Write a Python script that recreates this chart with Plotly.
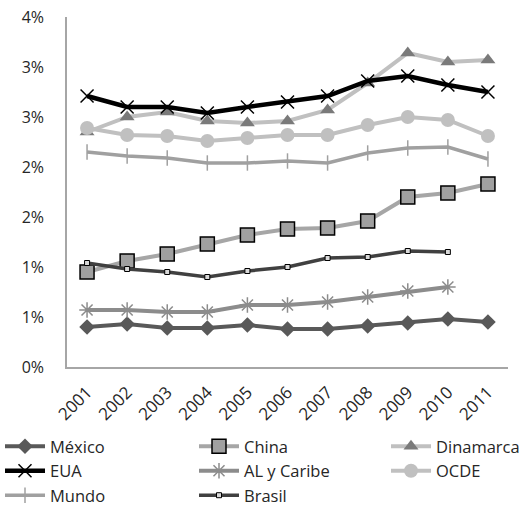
import plotly.graph_objects as go

years = ["2001", "2002", "2003", "2004", "2005", "2006", "2007", "2008", "2009", "2010", "2011"]

# Values in percent
mexico = [0.40, 0.43, 0.39, 0.39, 0.42, 0.38, 0.38, 0.41, 0.44, 0.48, 0.45]
china = [0.95, 1.06, 1.13, 1.23, 1.32, 1.38, 1.39, 1.46, 1.70, 1.74, 1.83]
dinamarca = [2.35, 2.50, 2.55, 2.46, 2.44, 2.46, 2.57, 2.84, 3.14, 3.05, 3.07]
eua = [2.71, 2.60, 2.60, 2.54, 2.60, 2.65, 2.71, 2.86, 2.91, 2.82, 2.75]
al_caribe = [0.57, 0.57, 0.55, 0.55, 0.62, 0.62, 0.65, 0.70, 0.76, 0.80, None]
ocde = [2.39, 2.32, 2.31, 2.26, 2.29, 2.32, 2.32, 2.42, 2.50, 2.47, 2.31]
mundo = [2.15, 2.11, 2.09, 2.04, 2.04, 2.06, 2.04, 2.14, 2.19, 2.20, 2.08]
brasil = [1.04, 0.98, 0.95, 0.90, 0.96, 1.00, 1.09, 1.10, 1.16, 1.15, None]

y_tickvals = [0, 0.5, 1.0, 1.5, 2.0, 2.5, 3.0, 3.5]
y_ticktext = ["0%", "1%", "1%", "2%", "2%", "3%", "3%", "4%"]

FONT = "Open Sans"
TEXT = "#262626"

# Each series goes to one of three legend columns
series = [
    dict(name="México", y=mexico, legend="legend", line=dict(color="#595959", width=4),
         marker=dict(symbol="diamond", size=12, color="#595959")),
    dict(name="China", y=china, legend="legend2", line=dict(color="#a6a6a6", width=4),
         marker=dict(symbol="square", size=14, color="#a0a0a0",
                     line=dict(color="#000000", width=1.5))),
    dict(name="Dinamarca", y=dinamarca, legend="legend3", line=dict(color="#c0c0c0", width=4),
         marker=dict(symbol="triangle-up", size=13, color="#7a7a7a")),
    dict(name="EUA", y=eua, legend="legend", line=dict(color="#000000", width=4.5),
         marker=dict(symbol="x-thin-open", size=13, color="#000000",
                     line=dict(color="#000000", width=1.5))),
    dict(name="AL y Caribe", y=al_caribe, legend="legend2", line=dict(color="#8c8c8c", width=4),
         marker=dict(symbol="asterisk-open", size=13, color="#8c8c8c",
                     line=dict(color="#8c8c8c", width=1.5))),
    dict(name="OCDE", y=ocde, legend="legend3", line=dict(color="#c0c0c0", width=4),
         marker=dict(symbol="circle", size=14, color="#c0c0c0")),
    dict(name="Mundo", y=mundo, legend="legend", line=dict(color="#a0a0a0", width=3.5),
         marker=dict(symbol="line-ns-open", size=11, color="#a0a0a0",
                     line=dict(color="#a0a0a0", width=1.5))),
    dict(name="Brasil", y=brasil, legend="legend2", line=dict(color="#404040", width=3.5),
         marker=dict(symbol="square", size=5, color="#d9d9d9",
                     line=dict(color="#000000", width=1))),
]

fig = go.Figure()
for s in series:
    fig.add_trace(go.Scatter(
        x=years, y=s["y"], name=s["name"], mode="lines+markers",
        line=s["line"], marker=s["marker"], connectgaps=False,
        legend=s["legend"],
    ))

legend_common = dict(
    orientation="v", xref="container", yref="container",
    y=0.152, xanchor="left", yanchor="top",
    itemwidth=40, tracegroupgap=0, bgcolor="rgba(0,0,0,0)",
    font=dict(family=FONT, size=16.5, color=TEXT),
)

fig.update_layout(
    width=525, height=506,
    margin=dict(l=67, r=17, t=17, b=139, autoexpand=False),
    plot_bgcolor="white", paper_bgcolor="white",
    font=dict(family=FONT, size=16, color=TEXT),
    xaxis=dict(
        type="category", tickangle=-45, showgrid=False,
        showline=True, linecolor="#a6a6a6", linewidth=1.5,
        ticks="outside", ticklen=7, tickcolor="rgba(255,255,255,0)",
        tickfont=dict(size=17), range=[-0.5, 10.5],
    ),
    yaxis=dict(
        range=[0, 3.5], tickvals=y_tickvals, ticktext=y_ticktext,
        showgrid=False, zeroline=False,
        showline=True, linecolor="#a6a6a6", linewidth=1.5,
        ticks="outside", ticklen=18, tickcolor="rgba(255,255,255,0)",
        tickfont=dict(size=16),
    ),
    legend=dict(legend_common, x=0.0),
    legend2=dict(legend_common, x=194 / 525),
    legend3=dict(legend_common, x=386 / 525),
    showlegend=True,
)

fig.write_html("out.html")
